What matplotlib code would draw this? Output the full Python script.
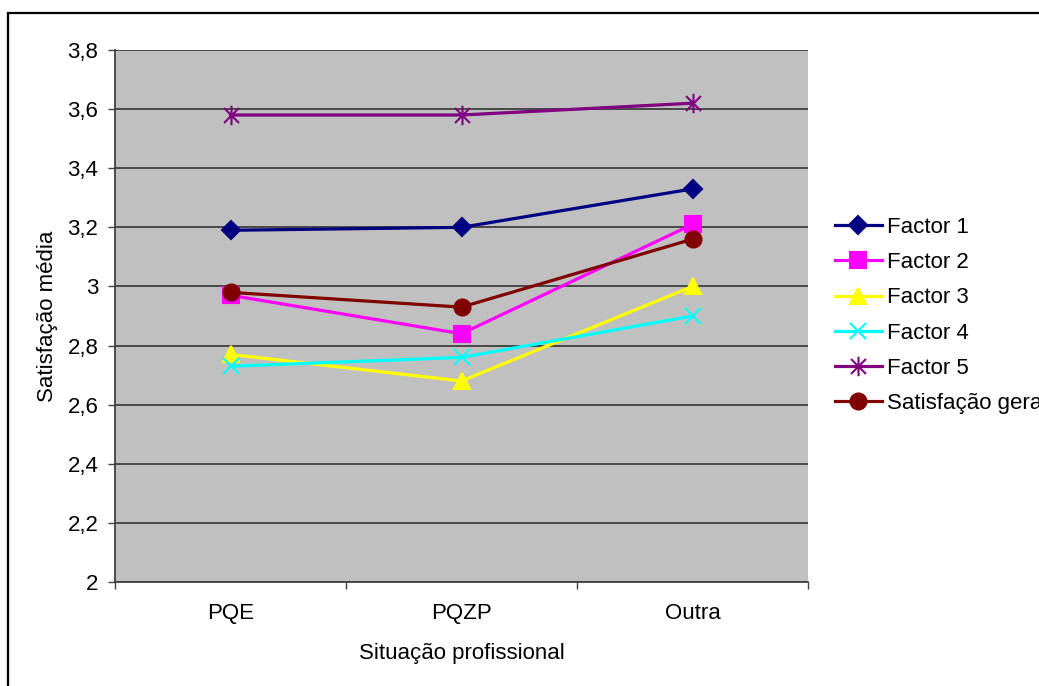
import matplotlib.pyplot as plt
from matplotlib.patches import Rectangle
from matplotlib.path import Path

plt.rcParams["font.family"] = ["Liberation Sans", "DejaVu Sans"]

situacoes = ["PQE", "PQZP", "Outra"]
factor1 = [3.19, 3.20, 3.33]
factor2 = [2.97, 2.84, 3.21]
factor3 = [2.77, 2.68, 3.00]
factor4 = [2.73, 2.76, 2.90]
factor5 = [3.58, 3.58, 3.62]
satisfacao_geral = [2.98, 2.93, 3.16]
y_ticks = [2.0, 2.2, 2.4, 2.6, 2.8, 3.0, 3.2, 3.4, 3.6, 3.8]

# asterisco (x com traço vertical)
asterisco = Path(
    [(-1, -1), (1, 1), (-1, 1), (1, -1), (0, -1.3), (0, 1.3)],
    [Path.MOVETO, Path.LINETO, Path.MOVETO, Path.LINETO, Path.MOVETO, Path.LINETO],
)

series = [
    ("Factor 1", factor1, "#000080", "D", 9),
    ("Factor 2", factor2, "#FF00FF", "s", 11),
    ("Factor 3", factor3, "#FFFF00", "^", 11),
    ("Factor 4", factor4, "#00FFFF", "x", 11),
    ("Factor 5", factor5, "#800080", asterisco, 14),
    ("Satisfação geral", satisfacao_geral, "#800000", "o", 11.5),
]

FS = 16
W, H = 1039, 686
fig = plt.figure(figsize=(W / 100, H / 100), dpi=100)
ax = fig.add_axes([115 / W, 1 - 582 / H, 693 / W, 532 / H])
ax.set_facecolor("#C0C0C0")

x = list(range(len(situacoes)))
for nome, valores, cor, marcador, tam in series:
    ax.plot(x, valores, color=cor, linewidth=2.3, marker=marcador, markersize=tam,
            markerfacecolor=cor, markeredgecolor=cor, markeredgewidth=1.5,
            label=nome, zorder=3)

ax.set_xlim(-0.5, 2.5)
ax.set_ylim(2, 3.8)
ax.set_yticks(y_ticks)
ax.set_yticklabels([f"{v:g}".replace(".", ",") for v in y_ticks])
ax.yaxis.grid(True, color="#333333", linewidth=1.2)
ax.set_axisbelow(True)

# marcas nos limites das categorias, rótulos no centro
ax.set_xticks([-0.5, 0.5, 1.5, 2.5])
ax.set_xticklabels([])
ax.set_xticks(x, minor=True)
ax.set_xticklabels(situacoes, minor=True)
ax.tick_params(axis="x", which="minor", length=0, pad=15, labelsize=FS)
ax.tick_params(axis="x", which="major", length=5, width=1, color="#404040")
ax.tick_params(axis="y", length=5, width=1, color="#404040", pad=7, labelsize=FS)

for lado in ["top", "right"]:
    ax.spines[lado].set_visible(False)
for lado in ["left", "bottom"]:
    ax.spines[lado].set_color("#404040")
    ax.spines[lado].set_linewidth(1.3)

ax.set_xlabel("Situação profissional", fontsize=FS, labelpad=14)
ax.set_ylabel("Satisfação média", fontsize=FS, labelpad=7)

fig.legend(loc="upper left", bbox_to_anchor=(835 / W, 1 - 217 / H),
           frameon=False, fontsize=FS, handlelength=2.1, handletextpad=0.25,
           labelspacing=0.64, borderpad=0, borderaxespad=0)

# moldura da área do gráfico
fig.patches.append(Rectangle((8 / W, -0.1), 1.2, 1 - 13 / H + 0.1,
                             transform=fig.transFigure, fill=False,
                             edgecolor="black", linewidth=1.6, clip_on=False))

fig.savefig("out.png", dpi=100)
